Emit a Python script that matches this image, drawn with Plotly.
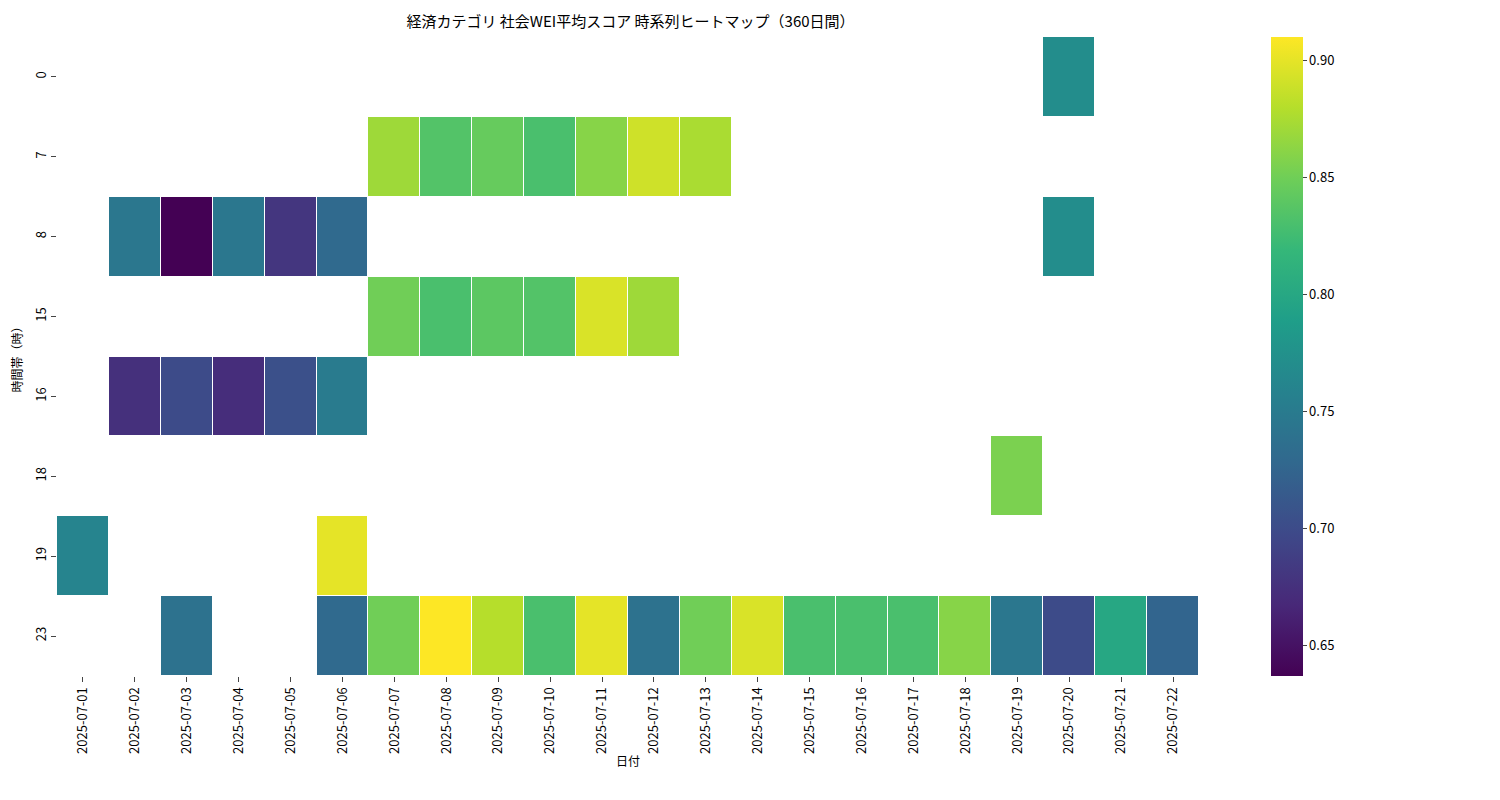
import plotly.graph_objects as go

# Data
dates = ["2025-07-%02d" % d for d in range(1, 23)]
hours = ["0", "7", "8", "15", "16", "18", "19", "23"]

N = None
row_0 = [N]*19 + [0.77, N, N]
row_7 = [N]*6 + [0.87, 0.835, 0.845, 0.83, 0.86, 0.89, 0.875] + [N]*9
row_8 = [N, 0.745, 0.637, 0.745, 0.68, 0.73] + [N]*13 + [0.77, N, N]
row_15 = [N]*6 + [0.85, 0.83, 0.84, 0.835, 0.895, 0.87] + [N]*10
row_16 = [N, 0.675, 0.70, 0.672, 0.705, 0.75] + [N]*16
row_18 = [N]*18 + [0.855, N, N, N]
row_19 = [0.76, N, N, N, N, 0.90] + [N]*16
row_23 = [N, N, 0.74, N, N, 0.73, 0.85, 0.91, 0.88, 0.83, 0.90, 0.74,
          0.85, 0.895, 0.83, 0.83, 0.83, 0.86, 0.745, 0.70, 0.80, 0.725]

z = [row_0, row_7, row_8, row_15, row_16, row_18, row_19, row_23]

font = "Noto Sans CJK JP"

fig = go.Figure(go.Heatmap(
    z=z, x=dates, y=hours,
    colorscale="Viridis", zmin=0.637, zmax=0.91,
    xgap=1, ygap=1, hoverongaps=False,
    colorbar=dict(thickness=32, lenmode="pixels", len=639, y=0.5, yanchor="middle",
                  x=1.063, xpad=0, ypad=0,
                  outlinewidth=0, tickvals=[0.65, 0.70, 0.75, 0.80, 0.85, 0.90],
                  ticktext=["0.65", "0.70", "0.75", "0.80", "0.85", "0.90"],
                  ticks="outside", ticklen=4, tickfont=dict(size=13)),
))

fig.update_layout(
    width=1500, height=800,
    title=dict(text="経済カテゴリ 社会WEI平均スコア 時系列ヒートマップ（360日間）",
               x=0.415, xanchor="center", y=0.983, yanchor="middle",
               font=dict(size=15)),
    font=dict(family=font, color="black", size=13),
    plot_bgcolor="white", paper_bgcolor="white",
    margin=dict(l=49, r=309, t=29, b=132, autoexpand=False),
    xaxis=dict(title=dict(text="日付", standoff=4, font=dict(size=12)),
               type="category", tickangle=-90, ticks="outside", ticklen=5,
               showgrid=False, zeroline=False, automargin=False),
    yaxis=dict(title=dict(text="時間帯（時）", font=dict(size=12)),
               type="category", autorange="reversed", tickangle=-90,
               ticks="outside", ticklen=5, showgrid=False, zeroline=False,
               automargin=False),
)

fig.write_html("out.html")
